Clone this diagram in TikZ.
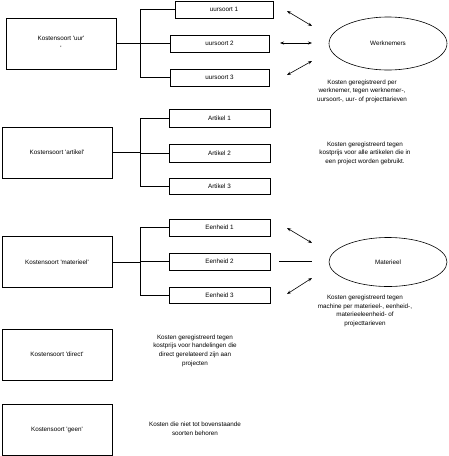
\documentclass[tikz,border=0pt]{standalone}
\usepackage{fontspec}
\setmainfont{Liberation Sans}
\usetikzlibrary{shapes.geometric,arrows.meta}
\newcommand\sqt{\textquotesingle}
\begin{document}
\begin{tikzpicture}[x=1pt,y=-1pt,
  every node/.style={font=\fontsize{6.3}{8.6}\selectfont, inner sep=0pt},
  bigbox/.style={draw, line width=0.8pt, minimum width=110pt, minimum height=51pt, align=center},
  smallbox/.style={draw, line width=0.8pt, minimum width=100pt, minimum height=17pt},
  oval/.style={draw, ellipse, line width=0.6pt, minimum width=118pt, minimum height=50pt},
  note/.style={align=center},
  conn/.style={line width=0.8pt},
  dbl/.style={line width=0.6pt, {Stealth[length=4pt,width=3pt]}-{Stealth[length=4pt,width=3pt]}},
  plain/.style={line width=0.6pt}]
\useasboundingbox (0,0) rectangle (448,456);

% left boxes
\node[bigbox] (uur) at (61,43.5) {Kostensoort \sqt uur\sqt\\[1pt]\sqt};
\node[bigbox] (art) at (57,152.5) {Kostensoort \sqt artikel\sqt};
\node[bigbox] (mat) at (57,262) {Kostensoort \sqt materieel\sqt};
\node[bigbox] (dir) at (57,354.5) {Kostensoort \sqt direct\sqt};
\node[bigbox] (geen) at (57,429.5) {Kostensoort \sqt geen\sqt};

% uursoort boxes
\node[smallbox, minimum width=98pt] (u1) at (224,9.5) {uursoort 1};
\node[smallbox, minimum width=99pt] (u2) at (219.5,43.5) {uursoort 2};
\node[smallbox, minimum width=99pt] (u3) at (219.5,77.5) {uursoort 3};

% artikel boxes
\node[smallbox, minimum width=101pt, minimum height=18pt] (a1) at (219.5,118) {Artikel 1};
\node[smallbox, minimum width=101pt, minimum height=18pt] (a2) at (219.5,153) {Artikel 2};
\node[smallbox, minimum width=101pt, minimum height=16pt] (a3) at (219.5,186) {Artikel 3};

% eenheid boxes
\node[smallbox, minimum width=101pt] (e1) at (219.5,227.5) {Eenheid 1};
\node[smallbox, minimum width=101pt] (e2) at (219.5,261.5) {Eenheid 2};
\node[smallbox, minimum width=101pt, minimum height=16pt] (e3) at (219.5,295) {Eenheid 3};

% junctions
\coordinate (j1) at (140,43.5);
\coordinate (j2) at (140,152.5);
\coordinate (j3) at (140,262);
\draw[conn] (uur.east) -- (j1);
\draw[conn] (j1) |- (u1.west);
\draw[conn] (j1) -- (u2.west);
\draw[conn] (j1) |- (u3.west);
\draw[conn] (art.east) -- (j2);
\draw[conn] (j2) |- (a1.west);
\draw[conn] (j2) |- (a2.west);
\draw[conn] (j2) |- (a3.west);
\draw[conn] (mat.east) -- (j3);
\draw[conn] (j3) |- (e1.west);
\draw[conn] (j3) |- (e2.west);
\draw[conn] (j3) |- (e3.west);

% ellipses
\node[oval, minimum height=53pt] (wn) at (388,43.5) {Werknemers};
\node[oval, minimum height=49pt] (mt) at (388,262) {Materieel};

% arrows
\coordinate (p1a) at (287,11);  \coordinate (p1b) at (312,26);
\coordinate (p2a) at (280,43);  \coordinate (p2b) at (312,43);
\coordinate (p3a) at (287,75);  \coordinate (p3b) at (312,61);
\draw[dbl] (p1a) -- (p1b);
\draw[dbl] (p2a) -- (p2b);
\draw[dbl] (p3a) -- (p3b);
\coordinate (q1a) at (287,228); \coordinate (q1b) at (312,243);
\coordinate (q2a) at (279,261); \coordinate (q2b) at (312,261);
\coordinate (q3a) at (287,294); \coordinate (q3b) at (312,278);
\draw[dbl] (q1a) -- (q1b);
\draw[plain] (q2a) -- (q2b);
\draw[dbl] (q3a) -- (q3b);

% notes
\node[note] (n1) at (362,91) {Kosten geregistreerd per\\werknemer, tegen werknemer-,\\uursoort-, uur- of projecttarieven};
\node[note] (n2) at (365,153) {Kosten geregistreerd tegen\\kostprijs voor alle artikelen die in\\een project worden gebruikt.};
\node[note] (n3) at (365,311) {Kosten geregistreerd tegen\\machine per materieel-, eenheid-,\\materieeleenheid- of\\projecttarieven};
\node[note] (n4) at (195,350.5) {Kosten geregistreerd tegen\\kostprijs voor handelingen die\\direct gerelateerd zijn aan\\projecten};
\node[note] (n5) at (195,428.5) {Kosten die niet tot bovenstaande\\soorten behoren};
\end{tikzpicture}
\end{document}
